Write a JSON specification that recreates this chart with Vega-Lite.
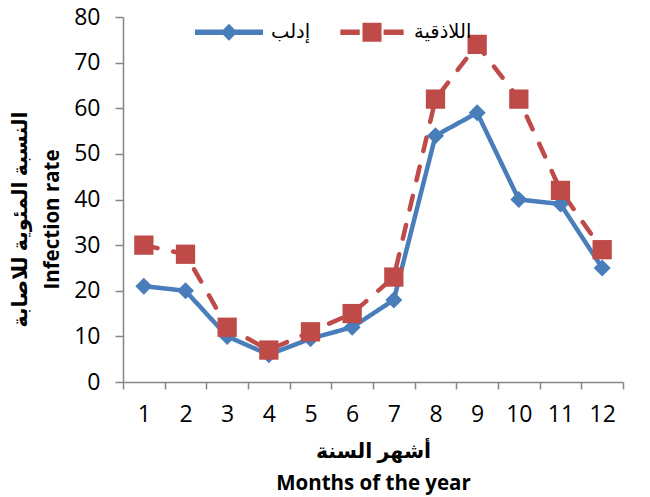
{
  "$schema": "https://vega.github.io/schema/vega-lite/v6.json",
  "width": 500,
  "height": 365,
  "autosize": {"type": "none"},
  "padding": {"left": 123, "top": 17, "right": 27, "bottom": 115},
  "background": "white",
  "config": {
    "view": {"stroke": null},
    "font": "Open Sans, DejaVu Sans",
    "axis": {
      "grid": false,
      "domainColor": "#868686",
      "domainWidth": 1.5,
      "tickColor": "#868686",
      "tickWidth": 1.5,
      "labelColor": "#000000",
      "labelFont": "Open Sans",
      "labelFontSize": 23,
      "titleColor": "#000000",
      "titleFont": "Open Sans, DejaVu Sans",
      "titleFontSize": 20.5,
      "titleFontWeight": "bold"
    },
    "legend": {
      "padding": 0,
      "symbolSize": 4624,
      "symbolStrokeWidth": 0,
      "symbolOpacity": 1,
      "labelFont": "DejaVu Sans",
      "labelFontSize": 19.5,
      "labelColor": "#000000",
      "labelOffset": 8,
      "columnPadding": 27
    }
  },
  "data": {
    "values": [
      {"month": 1, "city": "إدلب", "rate": 21},
      {"month": 2, "city": "إدلب", "rate": 20},
      {"month": 3, "city": "إدلب", "rate": 10},
      {"month": 4, "city": "إدلب", "rate": 6},
      {"month": 5, "city": "إدلب", "rate": 9.5},
      {"month": 6, "city": "إدلب", "rate": 12},
      {"month": 7, "city": "إدلب", "rate": 18},
      {"month": 8, "city": "إدلب", "rate": 54},
      {"month": 9, "city": "إدلب", "rate": 59},
      {"month": 10, "city": "إدلب", "rate": 40},
      {"month": 11, "city": "إدلب", "rate": 39},
      {"month": 12, "city": "إدلب", "rate": 25},
      {"month": 1, "city": "اللاذقية", "rate": 30},
      {"month": 2, "city": "اللاذقية", "rate": 28},
      {"month": 3, "city": "اللاذقية", "rate": 12},
      {"month": 4, "city": "اللاذقية", "rate": 7},
      {"month": 5, "city": "اللاذقية", "rate": 11},
      {"month": 6, "city": "اللاذقية", "rate": 15},
      {"month": 7, "city": "اللاذقية", "rate": 23},
      {"month": 8, "city": "اللاذقية", "rate": 62},
      {"month": 9, "city": "اللاذقية", "rate": 74},
      {"month": 10, "city": "اللاذقية", "rate": 62},
      {"month": 11, "city": "اللاذقية", "rate": 42},
      {"month": 12, "city": "اللاذقية", "rate": 29}
    ]
  },
  "encoding": {
    "x": {
      "field": "month",
      "type": "ordinal",
      "scale": {"type": "band", "domain": [1,2,3,4,5,6,7,8,9,10,11,12], "paddingInner": 0, "paddingOuter": 0},
      "axis": {
        "title": ["أشهر السنة", "Months of the year"],
        "labelAngle": 0,
        "tickBand": "extent",
        "tickSize": 7,
        "labelPadding": 14,
        "titlePadding": 15,
        "titleLineHeight": 32
      }
    },
    "y": {
      "field": "rate",
      "type": "quantitative",
      "scale": {"domain": [0, 80], "nice": false},
      "axis": {
        "title": ["النسبة المئوية للاصابة", "Infection rate"],
        "values": [0, 10, 20, 30, 40, 50, 60, 70, 80],
        "tickSize": 8,
        "labelPadding": 15,
        "titlePadding": 11,
        "titleLineHeight": 32,
        "titleY": 202
      }
    }
  },
  "layer": [
    {
      "mark": {"type": "line", "strokeWidth": 4.5, "strokeCap": "round", "strokeJoin": "round"},
      "encoding": {
        "color": {
          "field": "city", "type": "nominal",
          "scale": {"domain": ["إدلب", "اللاذقية"], "range": ["#4A7EBB", "#BE4B48"]},
          "legend": {"orient": "none", "legendX": 72, "legendY": -19, "direction": "horizontal", "title": null}
        },
        "strokeDash": {"field": "city", "type": "nominal", "scale": {"domain": ["إدلب", "اللاذقية"], "range": [[1, 0], [14, 16]]}, "legend": {"title": null}}
      }
    },
    {
      "transform": [{"filter": "datum.city === 'إدلب'"}],
      "mark": {"type": "point", "filled": true, "opacity": 1, "shape": "diamond", "size": 289},
      "encoding": {
        "color": {"field": "city", "type": "nominal", "scale": {"domain": ["إدلب", "اللاذقية"], "range": ["#4A7EBB", "#BE4B48"]}, "legend": {"orient": "none", "legendX": 72, "legendY": -19, "direction": "horizontal", "title": null}}
      }
    },
    {
      "transform": [{"filter": "datum.city === 'اللاذقية'"}],
      "mark": {"type": "point", "filled": true, "opacity": 1, "shape": "square", "size": 372},
      "encoding": {
        "color": {"field": "city", "type": "nominal", "scale": {"domain": ["إدلب", "اللاذقية"], "range": ["#4A7EBB", "#BE4B48"]}, "legend": {"orient": "none", "legendX": 72, "legendY": -19, "direction": "horizontal", "title": null}}
      }
    },
    {
      "transform": [{"filter": "false"}],
      "mark": {"type": "point", "filled": true, "opacity": 1},
      "encoding": {
        "shape": {
          "field": "city", "type": "nominal",
          "scale": {"domain": ["إدلب", "اللاذقية"], "range": ["M-1,-0.08H1V0.08H-1Z M0,-0.25L0.25,0L0,0.25L-0.25,0Z", "M-0.93,-0.08H-0.36V0.08H-0.93Z M0.34,-0.08H0.93V0.08H0.34Z M-0.28,-0.28H0.28V0.28H-0.28Z"]},
          "legend": {"title": null}
        }
      }
    }
  ]
}
